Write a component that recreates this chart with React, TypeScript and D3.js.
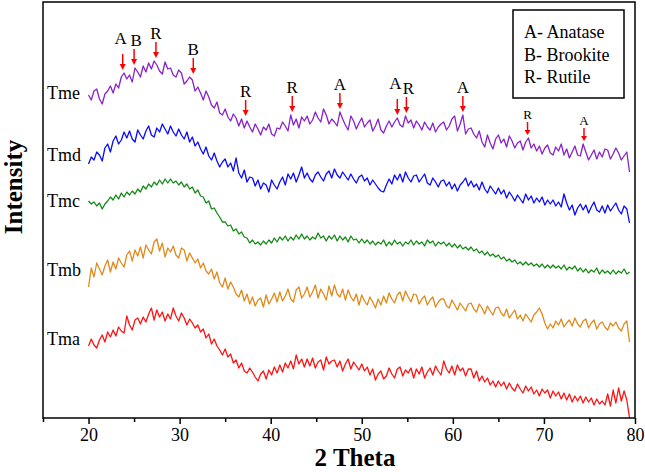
import React, { useEffect, useRef } from "react";
import * as d3 from "d3";

// XRD patterns, stacked (intensity in arbitrary units, offsets already applied)
const thetaStart = 20;
const thetaStep = 0.3;

const tmeValues = [
  323, 318, 327, 329, 319, 314, 324, 327, 332, 325,
  334, 330, 341, 345, 339, 343, 336, 350, 346, 341,
  352, 346, 355, 349, 357, 353, 347, 344, 356, 349,
  350, 343, 341, 348, 345, 334, 337, 341, 338, 327,
  331, 325, 318, 327, 321, 313, 310, 316, 305, 303,
  309, 301, 297, 304, 300, 292, 299, 290, 297, 291,
  286, 294, 289, 283, 291, 288, 294, 284, 282, 290,
  289, 296, 292, 287, 303, 293, 299, 290, 301, 297,
  302, 294, 298, 306, 300, 296, 309, 303, 294, 299,
  296, 292, 306, 299, 293, 288, 302, 297, 289, 295,
  300, 291, 295, 298, 287, 292, 299, 288, 285, 292,
  297, 291, 296, 300, 293, 291, 302, 295, 298, 290,
  297, 293, 288, 296, 291, 288, 295, 286, 291, 294,
  296, 288, 292, 299, 302, 287, 294, 303, 284, 289,
  290, 284, 280, 287, 276, 271, 283, 275, 269, 279,
  283, 275, 279, 271, 282, 277, 270, 275, 277, 268,
  276, 280, 270, 274, 267, 272, 264, 270, 273, 265,
  263, 271, 267, 274, 263, 269, 260, 266, 272, 263,
  262, 274, 266, 258, 263, 268, 259, 266, 261, 269,
  268, 259, 264, 270, 265, 258, 262, 266, 246,
];

const tmdValues = [
  254, 261, 258, 266, 263, 257, 270, 274, 266, 277,
  282, 274, 278, 286, 280, 287, 279, 276, 288, 283,
  279, 287, 292, 283, 281, 290, 286, 294, 289, 284,
  292, 286, 282, 289, 283, 279, 286, 276, 281, 272,
  276, 269, 264, 271, 262, 258, 265, 257, 251, 256,
  259, 251, 255, 247, 260, 245, 240, 248, 236, 241,
  240, 232, 238, 229, 235, 233, 226, 238, 233, 229,
  236, 241, 233, 244, 239, 245, 236, 243, 251, 240,
  245, 239, 236, 243, 246, 241, 237, 244, 247, 240,
  249, 243, 240, 246, 242, 238, 244, 239, 235, 241,
  243, 237, 240, 233, 238, 234, 230, 227, 226, 233,
  239, 234, 243, 238, 244, 236, 246, 240, 236, 242,
  243, 236, 240, 244, 235, 233, 240, 236, 231, 237,
  238, 232, 236, 229, 234, 227, 233, 236, 240, 232,
  237, 231, 234, 228, 236, 229, 225, 232, 228, 224,
  230, 224, 228, 220, 226, 222, 217, 223, 219, 215,
  224, 218, 222, 215, 220, 216, 221, 213, 218, 214,
  218, 212, 216, 211, 224, 215, 208, 213, 203, 210,
  214, 208, 213, 205, 211, 216, 208, 206, 212, 205,
  213, 207, 211, 215, 208, 204, 212, 209, 195,
];

const tmcValues = [
  217, 214, 216, 212, 215, 209, 214, 217, 221, 218,
  223, 219, 225, 221, 226, 223, 227, 224, 229, 226,
  232, 229, 234, 231, 236, 233, 238, 234, 239, 235,
  239, 235, 237, 233, 236, 231, 234, 229, 231, 225,
  228, 222, 221, 215, 217, 209, 210, 205, 201, 196,
  196, 192, 193, 187, 189, 184, 186, 181, 180, 175,
  178, 174, 176, 173, 177, 174, 178, 175, 180, 176,
  181, 178, 182, 177, 181, 178, 183, 179, 184, 179,
  182, 178, 181, 179, 185, 180, 182, 177, 182, 179,
  183, 177, 182, 178, 181, 176, 182, 178, 179, 175,
  179, 175, 178, 174, 177, 173, 176, 174, 178, 172,
  176, 173, 178, 174, 176, 172, 176, 174, 178, 173,
  177, 174, 176, 172, 178, 175, 177, 172, 176, 174,
  176, 172, 175, 171, 174, 170, 173, 169, 171, 168,
  171, 167, 169, 165, 167, 163, 166, 162, 164, 161,
  163, 159, 161, 157, 159, 156, 158, 154, 156, 153,
  156, 153, 155, 152, 154, 151, 154, 150, 153, 150,
  153, 150, 152, 149, 153, 148, 151, 149, 152, 147,
  150, 146, 149, 145, 148, 146, 150, 144, 148, 145,
  147, 144, 148, 144, 147, 145, 149, 144, 146,
];

const tmbValues = [
  131, 150, 141, 155, 149, 143, 152, 158, 146, 156,
  149, 160, 155, 151, 163, 167, 157, 168, 162, 171,
  160, 173, 168, 164, 176, 179, 167, 175, 161, 170,
  166, 172, 163, 160, 170, 168, 157, 165, 160, 155,
  159, 150, 155, 147, 144, 149, 139, 146, 135, 131,
  140, 129, 136, 131, 124, 121, 128, 117, 124, 114,
  121, 112, 118, 120, 111, 123, 114, 119, 125, 116,
  126, 117, 122, 129, 119, 116, 128, 131, 120, 124,
  131, 121, 126, 133, 120, 129, 124, 118, 132, 122,
  133, 124, 121, 129, 118, 128, 121, 117, 124, 113,
  123, 117, 113, 121, 116, 110, 119, 113, 122, 115,
  125, 119, 115, 123, 126, 117, 127, 121, 116, 124,
  123, 114, 119, 122, 113, 118, 121, 111, 116, 119,
  119, 112, 110, 118, 113, 108, 115, 111, 107, 114,
  115, 109, 106, 114, 110, 104, 112, 107, 103, 110,
  111, 105, 102, 109, 100, 104, 108, 99, 103, 97,
  104, 100, 96, 103, 106, 110, 104, 95, 89, 94,
  90, 97, 93, 99, 91, 95, 98, 92, 100, 94,
  91, 97, 99, 90, 95, 98, 89, 94, 96, 91,
  88, 95, 92, 96, 90, 87, 94, 97, 76,
];

const tmaValues = [
  72, 79, 73, 70, 78, 83, 76, 86, 81, 88,
  82, 91, 87, 85, 102, 93, 88, 98, 100, 94,
  101, 96, 104, 110, 98, 108, 101, 106, 97, 104,
  99, 110, 102, 97, 105, 100, 93, 99, 95, 90,
  93, 86, 89, 80, 84, 74, 79, 72, 68, 63,
  69, 61, 64, 55, 58, 50, 55, 47, 45, 50,
  46, 41, 37, 44, 47, 39, 48, 43, 51, 45,
  53, 46, 55, 50, 57, 49, 63, 54, 59, 51,
  59, 52, 60, 50, 56, 58, 48, 61, 54, 57,
  58, 51, 57, 47, 54, 59, 49, 56, 52, 48,
  54, 47, 51, 43, 49, 38, 44, 47, 39, 42,
  50, 44, 40, 49, 51, 42, 48, 45, 50, 40,
  49, 44, 51, 40, 46, 50, 43, 52, 47, 43,
  57, 49, 45, 52, 43, 53, 47, 50, 42, 49,
  49, 40, 47, 37, 42, 36, 40, 33, 37, 31,
  37, 32, 36, 29, 35, 30, 27, 34, 29, 25,
  32, 27, 31, 24, 28, 22, 29, 25, 28, 20,
  27, 22, 26, 19, 25, 18, 24, 16, 22, 17,
  22, 15, 21, 16, 20, 13, 19, 14, 17, 13,
  24, 12, 28, 15, 30, 17, 27, 18, 0,
];

const seriesNames = ["Tme", "Tmd", "Tmc", "Tmb", "Tma"];
const seriesValues = [tmeValues, tmdValues, tmcValues, tmbValues, tmaValues];
const seriesColors = ["#8a22c8", "#0a0aff", "#128a12", "#e08a1c", "#ff1414"];

const peakThetas = [23.75, 25.0, 27.4, 31.5, 37.25, 42.37, 47.6, 53.9, 54.9, 61.1, 68.2, 74.4];
const peakLabels = ["A", "B", "R", "B", "R", "R", "A", "A", "R", "A", "R", "A"];

const legendLines = ["A- Anatase", "B- Brookite", "R- Rutile"];

const majorTicks = [20, 30, 40, 50, 60, 70, 80];
const minorTicks = [15, 25, 35, 45, 55, 65, 75];

const SERIF = "'Liberation Serif', 'Times New Roman', serif";

const XrdChart: React.FC = () => {
  const svgRef = useRef<SVGSVGElement | null>(null);

  useEffect(() => {
    const width = 645;
    const height = 472;
    const left = 43;
    const right = 635;
    const top = 2;
    const bottom = 418;

    const x = d3.scaleLinear().domain([15, 80]).range([left, right]);
    const y = d3.scaleLinear().domain([0, 416]).range([bottom, top]);

    const svg = d3
      .select(svgRef.current)
      .attr("width", width)
      .attr("height", height)
      .attr("viewBox", [0, 0, width, height]);
    svg.selectAll("*").remove();

    svg.append("rect").attr("width", width).attr("height", height).attr("fill", "#fff");

    const thetas = d3.range(tmeValues.length).map((i) => thetaStart + i * thetaStep);

    const line = d3
      .line<number>()
      .x((_, i) => x(thetas[i]))
      .y((d) => y(d));

    seriesValues.forEach((vals, k) => {
      svg
        .append("path")
        .datum(vals)
        .attr("fill", "none")
        .attr("stroke", seriesColors[k])
        .attr("stroke-width", 1.3)
        .attr("stroke-linejoin", "round")
        .attr("d", line);

      // label placed next to the start of the trace
      const startLevel = d3.mean(vals.slice(0, 6)) as number;
      svg
        .append("text")
        .attr("x", 47)
        .attr("y", y(startLevel) - 3)
        .attr("dominant-baseline", "central")
        .attr("font-family", SERIF)
        .attr("font-size", 18)
        .text(seriesNames[k]);
    });

    // peak markers on the top trace
    peakThetas.forEach((t, i) => {
      const near = tmeValues.filter((_, j) => Math.abs(thetas[j] - t) <= 0.5);
      const tip = y(d3.max(near) as number) - 3;
      const small = t > 65;
      const len = small ? 13 : 16;
      const head = small ? 5 : 6;
      const px = x(t);
      const closeNext = i < peakThetas.length - 1 && peakThetas[i + 1] - t < 1.5;
      const closePrev = i > 0 && t - peakThetas[i - 1] < 1.5;
      const g = svg.append("g").attr("fill", "#ff0000").attr("stroke", "#ff0000");
      g.append("line")
        .attr("x1", px)
        .attr("x2", px)
        .attr("y1", tip - len)
        .attr("y2", tip - head + 1)
        .attr("stroke-width", 1.5);
      g.append("path")
        .attr("stroke", "none")
        .attr("d", `M${px - 3},${tip - head} L${px + 3},${tip - head} L${px},${tip} Z`);
      svg
        .append("text")
        .attr("x", px + (closeNext ? -2 : closePrev ? 2 : 0))
        .attr("y", tip - len - 3 - (closeNext ? 7 : 0))
        .attr("text-anchor", "middle")
        .attr("font-family", SERIF)
        .attr("font-size", small ? 13 : 17)
        .text(peakLabels[i]);
    });

    // frame
    svg
      .append("rect")
      .attr("x", left)
      .attr("y", top)
      .attr("width", right - left)
      .attr("height", bottom - top)
      .attr("fill", "none")
      .attr("stroke", "#000")
      .attr("stroke-width", 1.5);

    const gx = svg
      .append("g")
      .attr("transform", `translate(0,${bottom})`)
      .call(
        d3
          .axisBottom(x)
          .tickValues(majorTicks)
          .tickSize(6)
          .tickPadding(4)
          .tickFormat(d3.format("d")),
      );
    gx.select(".domain").remove();
    gx.selectAll("line").attr("stroke-width", 1.5);
    gx.selectAll("text")
      .attr("font-family", SERIF)
      .attr("font-size", 18)
      .attr("fill", "#000");

    const gm = svg
      .append("g")
      .attr("transform", `translate(0,${bottom})`)
      .call(d3.axisBottom(x).tickValues(minorTicks).tickSize(4).tickFormat(() => ""));
    gm.select(".domain").remove();
    gm.selectAll("line").attr("stroke-width", 1.5);

    svg
      .append("text")
      .attr("x", 355)
      .attr("y", 466)
      .attr("text-anchor", "middle")
      .attr("font-family", SERIF)
      .attr("font-weight", "bold")
      .attr("font-size", 25)
      .text("2 Theta");

    svg
      .append("text")
      .attr("transform", `translate(22,187) rotate(-90)`)
      .attr("text-anchor", "middle")
      .attr("font-family", SERIF)
      .attr("font-weight", "bold")
      .attr("font-size", 25)
      .text("Intensity");

    // legend box
    svg
      .append("rect")
      .attr("x", 513)
      .attr("y", 10)
      .attr("width", 111)
      .attr("height", 88)
      .attr("fill", "#fff")
      .attr("stroke", "#000")
      .attr("stroke-width", 1.5);

    legendLines.forEach((s, i) => {
      svg
        .append("text")
        .attr("x", 524)
        .attr("y", 32 + i * 22.5)
        .attr("dominant-baseline", "central")
        .attr("font-family", SERIF)
        .attr("font-size", 18)
        .text(s);
    });
  }, []);

  return <svg ref={svgRef} style={{ position: "absolute", left: 0, top: 0 }}></svg>;
};

export default function App() {
  return <XrdChart />;
}
